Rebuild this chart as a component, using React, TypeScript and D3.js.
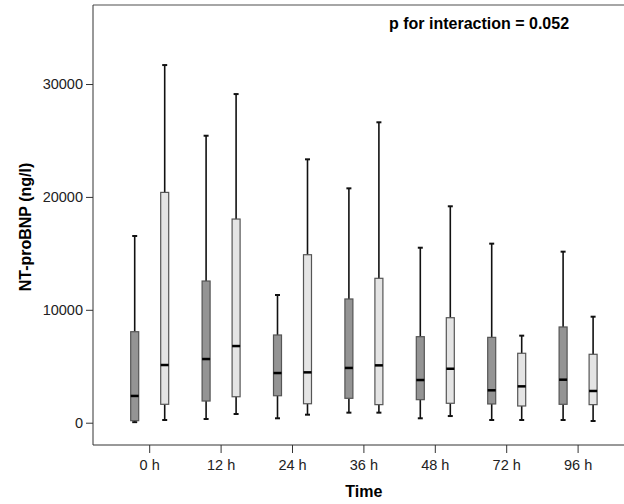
import React, { useEffect, useRef } from "react";
import * as d3 from "d3";

// time points on the x axis
const timeLabels = ["0 h", "12 h", "24 h", "36 h", "48 h", "72 h", "96 h"];
const groups = ["A", "B"];

// five-number summaries per time point
const groupAMin = [50, 330, 390, 890, 390, 240, 240];
const groupAQ1 = [180, 1920, 2390, 2160, 2040, 1660, 1630];
const groupAMed = [2370, 5640, 4400, 4850, 3780, 2870, 3810];
const groupAQ3 = [8060, 12550, 7770, 10960, 7620, 7560, 8480];
const groupAMax = [16540, 25420, 11310, 20760, 15500, 15860, 15150];

const groupBMin = [240, 770, 710, 890, 590, 240, 150];
const groupBQ1 = [1630, 2300, 1680, 1600, 1720, 1480, 1600];
const groupBMed = [5110, 6790, 4460, 5080, 4780, 3220, 2810];
const groupBQ3 = [20400, 18040, 14880, 12790, 9300, 6150, 6060];
const groupBMax = [31680, 29110, 23330, 26610, 19170, 7710, 9390];

const yTicks = [0, 10000, 20000, 30000];

type Box = {
  time: string;
  group: string;
  min: number;
  q1: number;
  med: number;
  q3: number;
  max: number;
};

const boxes: Box[] = [];
timeLabels.forEach((t, i) => {
  boxes.push({ time: t, group: "A", min: groupAMin[i], q1: groupAQ1[i], med: groupAMed[i], q3: groupAQ3[i], max: groupAMax[i] });
  boxes.push({ time: t, group: "B", min: groupBMin[i], q1: groupBQ1[i], med: groupBMed[i], q3: groupBQ3[i], max: groupBMax[i] });
});

const W = 624;
const H = 504;
const margin = { top: 5, right: 0, bottom: 59, left: 93 };
const font = "Arial, 'Liberation Sans', sans-serif";

const App = () => {
  const ref = useRef<SVGSVGElement>(null);

  useEffect(() => {
    const svg = d3.select(ref.current);
    svg.selectAll("*").remove();

    const innerW = W - margin.left - margin.right;
    const innerH = H - margin.top - margin.bottom;

    const x = d3.scaleBand<string>().domain(timeLabels).range([21, 21 + 71.4 * 7]).padding(0);
    const xg = d3.scaleBand<string>().domain(groups).range([-30, 30]).paddingInner(0).paddingOuter(0);
    const y = d3.scaleLinear().domain([-1975, 37000]).range([innerH, 0]);

    const g = svg.append("g").attr("transform", `translate(${margin.left},${margin.top})`);

    // frame
    g.append("line").attr("x1", 0).attr("x2", innerW).attr("y1", 0).attr("y2", 0)
      .attr("stroke", "#888").attr("stroke-width", 1.5);
    g.append("line").attr("x1", 0).attr("x2", innerW).attr("y1", innerH).attr("y2", innerH)
      .attr("stroke", "#333").attr("stroke-width", 1);
    g.append("line").attr("x1", 0).attr("x2", 0).attr("y1", 0).attr("y2", innerH)
      .attr("stroke", "#333").attr("stroke-width", 1);

    // y axis
    const ya = g.append("g").call(d3.axisLeft(y).tickValues(yTicks).tickSize(7).tickPadding(3).tickFormat(d3.format("d")));
    ya.select(".domain").remove();
    ya.selectAll("line").attr("stroke", "#333");
    ya.selectAll("text").attr("font-family", font).attr("font-size", 14.5).attr("fill", "#222");

    // x axis
    const xa = g.append("g").attr("transform", `translate(0,${innerH})`)
      .call(d3.axisBottom(x).tickSize(8).tickPadding(7));
    xa.select(".domain").remove();
    xa.selectAll("line").attr("stroke", "#333");
    xa.selectAll("text").attr("font-family", font).attr("font-size", 14.5).attr("fill", "#222");

    const bw = 8;
    const cx = (d: Box) => (x(d.time) ?? 0) + x.bandwidth() / 2 + (xg(d.group) ?? 0) + xg.bandwidth() / 2;

    const bg = g.selectAll(".box").data(boxes).enter().append("g").attr("class", "box");

    // whiskers
    bg.append("line")
      .attr("x1", cx).attr("x2", cx)
      .attr("y1", (d) => y(d.max)).attr("y2", (d) => y(d.q3))
      .attr("stroke", "#111").attr("stroke-width", 1.6);
    bg.append("line")
      .attr("x1", cx).attr("x2", cx)
      .attr("y1", (d) => y(d.q1)).attr("y2", (d) => y(d.min))
      .attr("stroke", "#111").attr("stroke-width", 1.6);
    // caps
    bg.append("line")
      .attr("x1", (d) => cx(d) - 2.5).attr("x2", (d) => cx(d) + 2.5)
      .attr("y1", (d) => y(d.max)).attr("y2", (d) => y(d.max))
      .attr("stroke", "#111").attr("stroke-width", 2);
    bg.append("line")
      .attr("x1", (d) => cx(d) - 2.5).attr("x2", (d) => cx(d) + 2.5)
      .attr("y1", (d) => y(d.min)).attr("y2", (d) => y(d.min))
      .attr("stroke", "#111").attr("stroke-width", 2);

    // boxes
    bg.append("rect")
      .attr("x", (d) => cx(d) - bw / 2)
      .attr("width", bw)
      .attr("y", (d) => y(d.q3))
      .attr("height", (d) => y(d.q1) - y(d.q3))
      .attr("fill", (d) => (d.group === "A" ? "#949494" : "#e4e4e4"))
      .attr("stroke", "#555")
      .attr("stroke-width", 1.2);

    // medians
    bg.append("line")
      .attr("x1", (d) => cx(d) - bw / 2).attr("x2", (d) => cx(d) + bw / 2)
      .attr("y1", (d) => y(d.med)).attr("y2", (d) => y(d.med))
      .attr("stroke", "#000").attr("stroke-width", 2.5);

    // labels
    g.append("text")
      .attr("x", (x("36 h") ?? 0) + x.bandwidth() / 2).attr("y", innerH + 52)
      .attr("text-anchor", "middle")
      .attr("font-family", font).attr("font-size", 16).attr("font-weight", "bold")
      .text("Time");

    g.append("text")
      .attr("transform", `translate(${-62},${innerH / 2 + 2}) rotate(-90)`)
      .attr("text-anchor", "middle")
      .attr("font-family", font).attr("font-size", 16).attr("font-weight", "bold")
      .text("NT-proBNP (ng/l)");

    g.append("text")
      .attr("x", 296).attr("y", 24)
      .attr("font-family", font).attr("font-size", 16).attr("font-weight", "bold")
      .text("p for interaction = 0.052");
  }, []);

  return (
    <svg
      ref={ref}
      width={W}
      height={H}
      style={{ position: "absolute", left: 0, top: 0, background: "#fff" }}
    />
  );
};

export default App;
